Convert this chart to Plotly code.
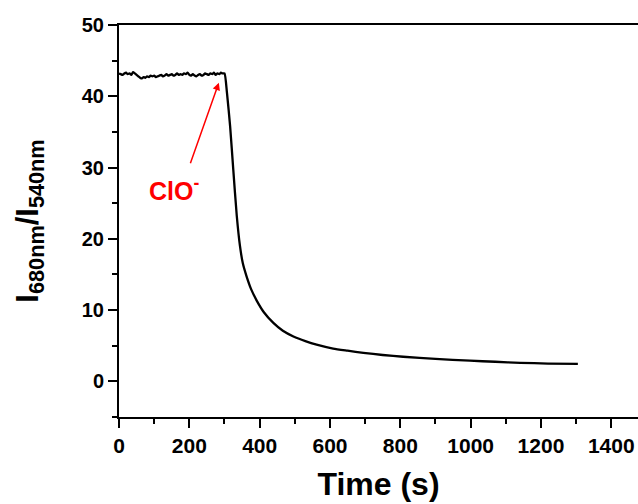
import plotly.graph_objects as go

# Flat baseline before ClO- addition (t = 0..295 s, step 5)
t_flat = list(range(0, 300, 5))
r_flat = [43.2, 43.1, 43.0, 43.2, 43.3, 43.1, 43.2, 43.0, 43.4, 43.2,
          43.0, 42.8, 42.6, 42.5, 42.7, 42.6, 42.8, 42.7, 42.9, 42.8,
          42.9, 42.7, 42.8, 42.9, 43.0, 42.8, 42.9, 43.1, 42.9, 43.0,
          43.1, 42.9, 43.0, 43.2, 43.0, 43.1, 43.0, 43.2, 43.1, 43.3,
          43.0, 42.9, 43.1, 42.9, 42.8, 43.0, 43.1, 42.9, 43.0, 43.2,
          43.1, 43.0, 43.2, 43.1, 43.3, 43.0, 43.2, 43.1, 43.3, 43.2]

# Decay after ClO- addition
t_decay = [300, 307, 316, 325, 335, 344, 352, 363, 376, 392, 412, 439, 466,
           496, 530, 562, 609, 650, 695, 750, 808, 900, 998, 1070, 1141,
           1220, 1305]
r_decay = [43.2, 40.5, 35.8, 29.7, 23.2, 19.0, 16.6, 14.7, 12.9, 11.3, 9.7,
           8.2, 7.1, 6.3, 5.65, 5.15, 4.6, 4.3, 4.0, 3.7, 3.45, 3.15, 2.9,
           2.75, 2.6, 2.5, 2.45]

time = t_flat + t_decay
ratio = r_flat + r_decay

x_ticks = [0, 200, 400, 600, 800, 1000, 1200, 1400]
y_ticks = [0, 10, 20, 30, 40, 50]

font_family = "Arial, Liberation Sans, sans-serif"

fig = go.Figure()
fig.add_trace(go.Scatter(x=time, y=ratio, mode="lines",
                         line=dict(color="black", width=2.3, shape="spline", smoothing=0.6),
                         showlegend=False))

fig.update_layout(
    width=638, height=504,
    margin=dict(l=119, r=0, t=25, b=87),
    paper_bgcolor="white", plot_bgcolor="white",
    font=dict(family=font_family, color="black"),
)

fig.update_xaxes(
    range=[0, 1476], tickmode="array", tickvals=x_ticks,
    ticktext=["<b>%d</b>" % v for v in x_ticks],
    ticks="outside", ticklen=9, tickwidth=2, tickcolor="black",
    showline=True, linewidth=2, linecolor="black", mirror=True,
    showgrid=False, zeroline=False,
    minor=dict(dtick=100, tick0=0, ticks="outside", ticklen=5, tickwidth=2, tickcolor="black"),
    tickfont=dict(size=21, family=font_family, color="black"),
    title=dict(text="<b>Time (s)</b>", font=dict(size=32, family=font_family), standoff=16),
)
fig.update_yaxes(
    range=[-5, 50], tickmode="array", tickvals=y_ticks,
    ticktext=["<b>%d</b>" % v for v in y_ticks],
    ticks="outside", ticklen=9, tickwidth=2, tickcolor="black",
    showline=True, linewidth=2, linecolor="black", mirror=False,
    showgrid=False, zeroline=False,
    minor=dict(dtick=5, tick0=0, ticks="outside", ticklen=5, tickwidth=2, tickcolor="black"),
    tickfont=dict(size=20, family=font_family, color="black"),
    title=dict(text="<b>I<sub>680nm</sub>/I<sub>540nm</sub></b>",
               font=dict(size=31, family=font_family), standoff=34),
)

# Arrow pointing to ClO- addition point
fig.add_annotation(x=284, y=41.9, xref="x", yref="y", text="", showarrow=True,
                   ax=-29, ay=82, arrowcolor="red", arrowwidth=1.5, arrowhead=2,
                   arrowsize=1)
fig.add_annotation(x=156, y=27.0, xref="x", yref="y", text="<b>ClO<sup>-</sup></b>",
                   showarrow=False, font=dict(size=25, color="red", family=font_family))

fig.write_html("out.html")
